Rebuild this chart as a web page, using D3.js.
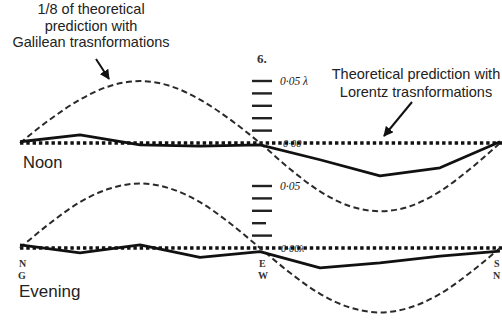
<!DOCTYPE html>
<html>
<head>
<meta charset="utf-8">
<script src="https://cdn.jsdelivr.net/npm/d3@7"></script>
<style>
    body { margin: 0; background: #fff; }
    #chart { width: 502px; height: 320px; }
    .note { font-family: 'Liberation Sans', Arial, sans-serif; fill: #222; }
    .hand { font-family: 'Liberation Serif', 'DejaVu Serif', serif; font-style: italic; fill: #222; }
    .dir { font-family: 'Liberation Serif', 'DejaVu Serif', serif; font-weight: 700; fill: #333; }
</style>
</head>
<body>
<div id="chart"></div>
<script>
//Datos (desplazamiento en longitudes de onda)
//Posición del aparato en dieciseisavos de vuelta
const azimuth = [0, 1, 2, 3, 4, 5, 6, 7, 8, 9, 10, 11, 12, 13, 14, 15, 16];
const galileanNoon = [0, 0.019, 0.035, 0.046, 0.050, 0.046, 0.035, 0.019, 0, -0.021, -0.039, -0.051, -0.055, -0.051, -0.039, -0.021, 0];
const galileanEvening = [0, 0.020, 0.037, 0.048, 0.052, 0.048, 0.037, 0.020, 0, -0.020, -0.037, -0.048, -0.052, -0.048, -0.037, -0.020, 0];

const obsAzimuth = [0, 2, 4, 6, 8, 10, 12, 14, 16];
const noonObs = [0.001, 0.0065, -0.0015, -0.0025, -0.0015, -0.0135, -0.0265, -0.020, 0.001];
const eveningObs = [0.0025, -0.004, 0.0025, -0.0075, -0.003, -0.016, -0.012, -0.0065, -0.0025];

const scaleTicks = [0.01, 0.02, 0.03, 0.04, 0.05];

const COLOR_INK = '#111', COLOR_DASH = '#2a2a2a';

let width = 502, height = 320;

let svg = d3.select('#chart')
    .append('svg')
        .attr('width', width)
        .attr('height', height);

let x = d3.scaleLinear()
    .domain([0, 16])
    .range([20, 500]);

//Marcador de flecha
svg.append('defs')
    .append('marker')
        .attr('id', 'arrow')
        .attr('viewBox', '0 0 10 10')
        .attr('refX', 9)
        .attr('refY', 5)
        .attr('markerWidth', 5)
        .attr('markerHeight', 5)
        .attr('orient', 'auto')
    .append('path')
        .attr('d', 'M0,0 L10,5 L0,10 Z')
        .attr('fill', COLOR_INK);

function drawPanel(base, galilean, obs, opts) {
    let y = d3.scaleLinear()
        .domain([0, 0.05])
        .range([base, base - 62]);

    let g = svg.append('g');

    //Escala vertical (marcas cortas)
    g.selectAll('.tick-mark')
        .data(scaleTicks)
        .enter()
        .append('line')
        .attr('x1', 252)
        .attr('x2', function(d) { return (opts.short && d == 0.02) ? 266 : 272; })
        .attr('y1', function(d) { return y(d); })
        .attr('y2', function(d) { return y(d); })
        .attr('stroke', '#222')
        .attr('stroke-width', 2.4);

    g.append('text')
        .attr('class', 'hand')
        .attr('x', 280)
        .attr('y', y(0.05) + 4)
        .style('font-size', '11.5px')
        .text(opts.topLabel);

    g.append('text')
        .attr('class', 'hand')
        .attr('x', opts.zeroX)
        .attr('y', y(0) + 4)
        .style('font-size', '10.5px')
        .text(opts.zeroLabel);

    //Predicción de Lorentz (línea de puntos)
    g.append('line')
        .attr('x1', x(0))
        .attr('x2', width)
        .attr('y1', y(0))
        .attr('y2', y(0))
        .attr('stroke', COLOR_INK)
        .attr('stroke-width', 3.5)
        .attr('stroke-dasharray', '3.4,2.9');

    //1/8 de la predicción galileana
    g.append('path')
        .datum(galilean)
        .attr('fill', 'none')
        .attr('stroke', COLOR_DASH)
        .attr('stroke-width', 2)
        .attr('stroke-dasharray', '6,3.5')
        .attr('d', d3.line()
            .x(function(d, i) { return x(azimuth[i]); })
            .y(function(d) { return y(d); })
            .curve(d3.curveMonotoneX));

    //Observación
    g.append('path')
        .datum(obs)
        .attr('fill', 'none')
        .attr('stroke', COLOR_INK)
        .attr('stroke-width', 2.8)
        .attr('stroke-linejoin', 'round')
        .attr('d', d3.line()
            .x(function(d, i) { return x(obsAzimuth[i]); })
            .y(function(d) { return y(d); }));

    return y;
}

let yNoon = drawPanel(143, galileanNoon, noonObs, {topLabel: '0·05 λ', zeroLabel: '0·00', zeroX: 283});
let yEvening = drawPanel(248, galileanEvening, eveningObs, {topLabel: '0·05', zeroLabel: '0·00λ', zeroX: 281, short: true});

//Etiquetas de orientación
let dirs = [{k: 0, a: 'N', b: 'G'}, {k: 8, a: 'E', b: 'W'}, {k: 16, a: 'S', b: 'N'}];
svg.selectAll('.dir-a')
    .data(dirs)
    .enter()
    .append('text')
    .attr('class', 'dir')
    .attr('x', function(d) { return d.k == 16 ? 494 : x(d.k) - 1; })
    .attr('y', yEvening(0) + 19)
    .style('font-size', '10px')
    .text(function(d) { return d.a; });

svg.selectAll('.dir-b')
    .data(dirs)
    .enter()
    .append('text')
    .attr('class', 'dir')
    .attr('x', function(d) { return d.k == 16 ? 493 : x(d.k) - 2; })
    .attr('y', yEvening(0) + 31)
    .style('font-size', '10px')
    .text(function(d) { return d.b; });

svg.append('text')
    .attr('class', 'dir')
    .attr('x', 257)
    .attr('y', 63)
    .style('font-size', '13px')
    .text('6.');

//Rótulos
svg.append('text').attr('class', 'note').attr('x', 23).attr('y', 168).style('font-size', '16.5px').text('Noon');
svg.append('text').attr('class', 'note').attr('x', 19).attr('y', 297).style('font-size', '17px').text('Evening');

let galText = svg.append('text').attr('class', 'note').attr('text-anchor', 'middle').style('font-size', '14.5px');
['1/8 of theoretical', 'prediction with', 'Galilean trasnformations'].forEach(function(t, i) {
    galText.append('tspan').attr('x', 91).attr('y', 14 + i * 16.5).text(t);
});

let lorText = svg.append('text').attr('class', 'note').attr('text-anchor', 'middle').style('font-size', '14.5px');
['Theoretical prediction with', 'Lorentz trasnformations'].forEach(function(t, i) {
    lorText.append('tspan').attr('x', 416).attr('y', 79 + i * 17.5).text(t);
});

//Flechas
svg.append('line')
    .attr('x1', 96).attr('y1', 59)
    .attr('x2', 109).attr('y2', 79)
    .attr('stroke', COLOR_INK)
    .attr('stroke-width', 2)
    .attr('marker-end', 'url(#arrow)');

svg.append('line')
    .attr('x1', 412).attr('y1', 102)
    .attr('x2', 384).attr('y2', 136)
    .attr('stroke', COLOR_INK)
    .attr('stroke-width', 2)
    .attr('marker-end', 'url(#arrow)');
</script>
</body>
</html>
